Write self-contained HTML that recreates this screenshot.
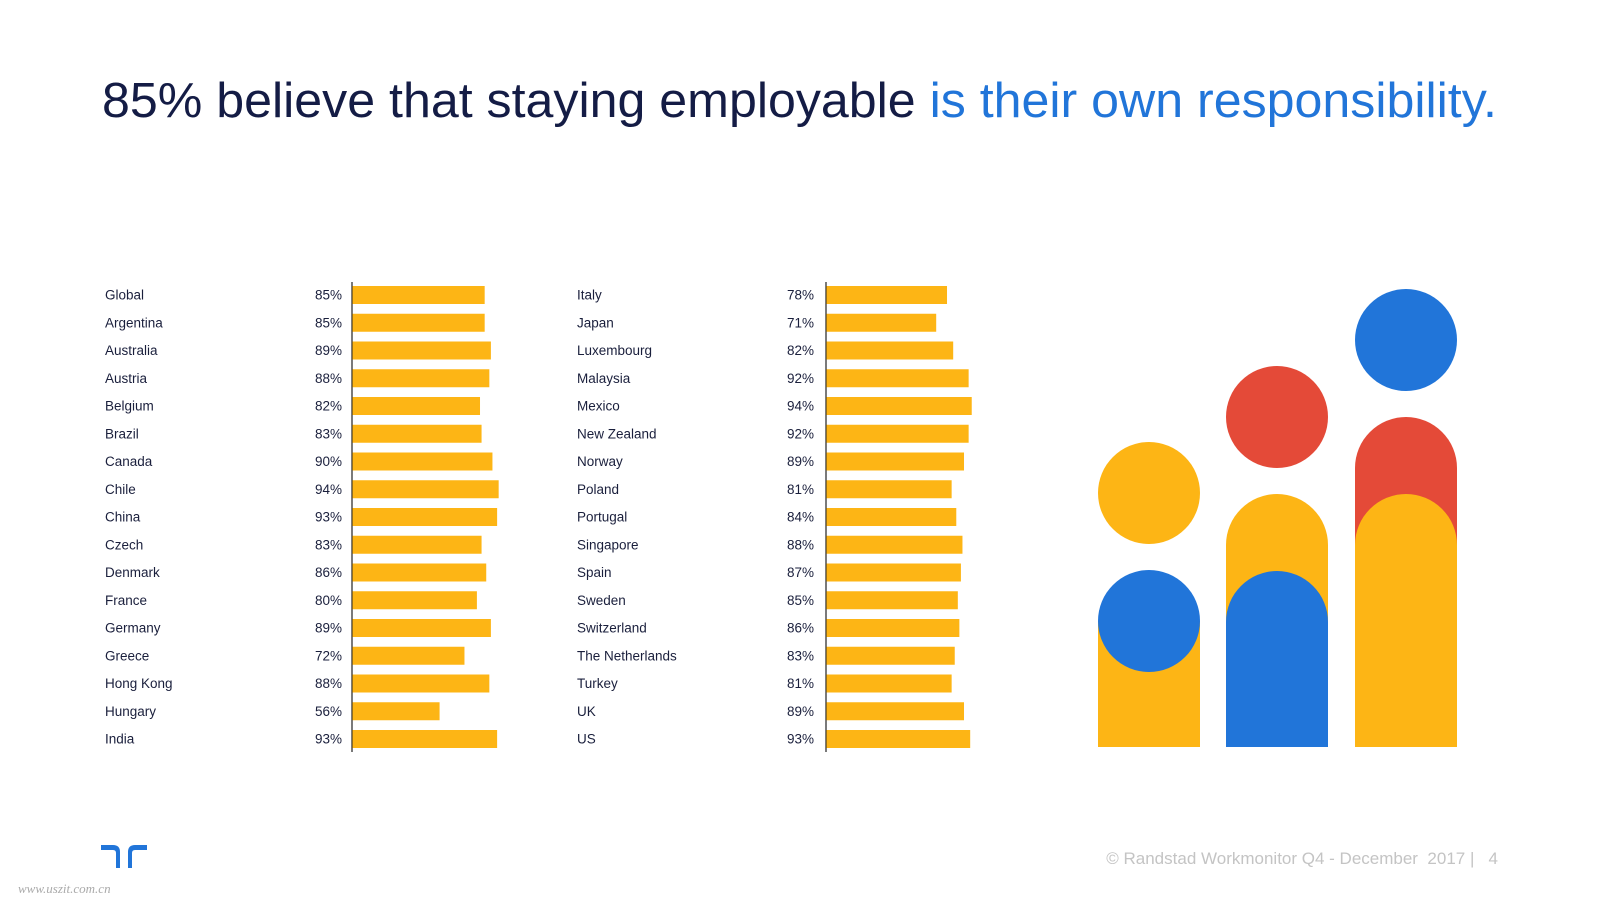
<!DOCTYPE html>
<html><head><meta charset="utf-8"><style>
html,body{margin:0;padding:0;background:#fff;width:1600px;height:900px;overflow:hidden}
svg{display:block;font-family:"Liberation Sans","DejaVu Sans",sans-serif}
</style></head><body>
<svg id="slide" width="1600" height="900" viewBox="0 0 1600 900">
<text x="102" y="117" font-size="49" fill="#141c45" textLength="1395" lengthAdjust="spacingAndGlyphs">85% believe that staying employable <tspan fill="#2175d9">is their own responsibility.</tspan></text>
<g id="chartL"></g>
<g id="chartR"></g>
<g transform="translate(-12,-5)">
<path d="M1110,626 H1212 V752 H1110 Z" fill="#fdb515"/>
<circle cx="1161" cy="626" r="51" fill="#2175d9"/>
<circle cx="1161" cy="498" r="51" fill="#fdb515"/>
<path d="M1238,752 V550 A51,51 0 0 1 1340,550 V752 Z" fill="#fdb515"/>
<path d="M1238,752 V627 A51,51 0 0 1 1340,627 V752 Z" fill="#2175d9"/>
<circle cx="1289" cy="422" r="51" fill="#e44a38"/>
<path d="M1367,752 V473 A51,51 0 0 1 1469,473 V752 Z" fill="#e44a38"/>
<path d="M1367,752 V550 A51,51 0 0 1 1469,550 V752 Z" fill="#fdb515"/>
<circle cx="1418" cy="345" r="51" fill="#2175d9"/>
</g>
<g fill="#2175d9">
<path d="M101,845 H113 Q120,845 120,852 V868 H116 V853 Q116,850 113,850 H101 Z"/>
<path d="M147,845 H135 Q128,845 128,852 V868 H132 V853 Q132,850 135,850 H147 Z"/>
</g>
<text x="1498" y="864" font-size="17" fill="#c4c4c4" text-anchor="end" xml:space="preserve">© Randstad Workmonitor Q4 - December  2017 |   4</text>
<text x="18" y="893" font-size="13" fill="#aaaaaa" font-family="Liberation Serif, serif" font-style="italic">www.uszit.com.cn</text>
</svg>
<script>
const leftCountries=["Global","Argentina","Australia","Austria","Belgium","Brazil","Canada","Chile","China","Czech","Denmark","France","Germany","Greece","Hong Kong","Hungary","India"];
const leftValues=[85,85,89,88,82,83,90,94,93,83,86,80,89,72,88,56,93];
const rightCountries=["Italy","Japan","Luxembourg","Malaysia","Mexico","New Zealand","Norway","Poland","Portugal","Singapore","Spain","Sweden","Switzerland","The Netherlands","Turkey","UK","US"];
const rightValues=[78,71,82,92,94,92,89,81,84,88,87,85,86,83,81,89,93];
const NS="http://www.w3.org/2000/svg";
function mk(tag,attrs,parent){const e=document.createElementNS(NS,tag);for(const k in attrs)e.setAttribute(k,attrs[k]);parent.appendChild(e);return e;}
function draw(gid,cats,vals,axisX,labelX,pctX,scale){
  const g=document.getElementById(gid);
  const top=286,pitch=27.75,bh=18;
  const yPos=i=>top+i*pitch;
  const xLen=v=>v*scale;
  const ax=mk('line',{x1:axisX,x2:axisX,y1:282,y2:752,stroke:'#222','stroke-width':1.2},g);
  
  
  cats.forEach((c,i)=>{
    const y=yPos(i);
    const t=mk('text',{x:labelX,y:y+bh/2+4.5,'font-size':13.5,fill:'#1a1f3c'},g);t.textContent=c;
    
    
    const p=mk('text',{x:pctX,y:y+bh/2+4.5,'font-size':13.5,fill:'#1a1f3c','text-anchor':'end'},g);p.textContent=vals[i]+'%';
    
    
    const r=mk('rect',{x:axisX+0.5,y:y,width:xLen(vals[i]),height:bh,fill:'#fdb515'},g);
    
    
  });
}
draw('chartL',leftCountries,leftValues,352,105,342,1.555);
draw('chartR',rightCountries,rightValues,826,577,814,1.545);
</script>
</body></html>
